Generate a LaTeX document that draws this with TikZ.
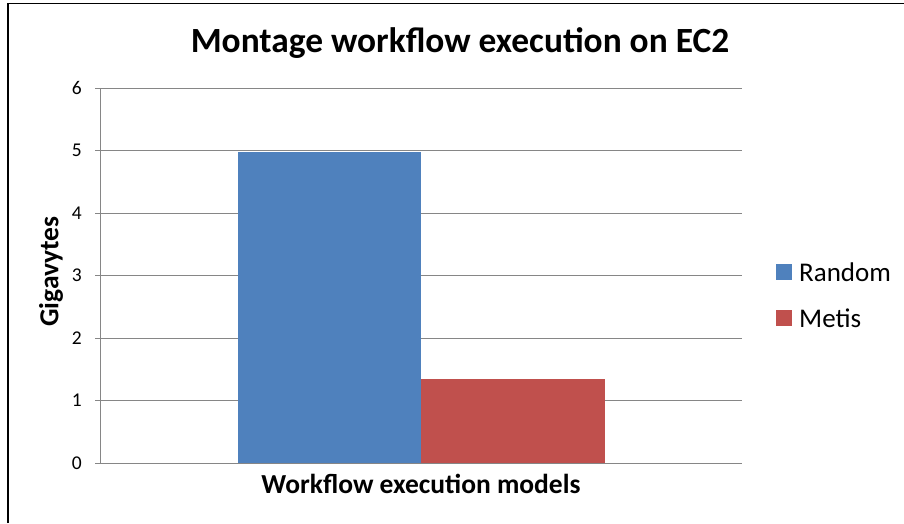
\documentclass[tikz,border=0pt]{standalone}
\usepackage{fontspec}
\setmainfont{Carlito}
\definecolor{barblue}{HTML}{4F81BD}
\definecolor{barred}{HTML}{C0504D}
\definecolor{gridgray}{HTML}{868686}
\begin{document}
\begin{tikzpicture}[x=1pt,y=-1pt,
  grid/.style={draw=gridgray,line width=0.9pt},
  ticklabel/.style={anchor=east,inner sep=0pt,font=\fontsize{19.5}{21}\selectfont},
  legtext/.style={anchor=west,inner sep=0pt,font=\fontsize{27}{30}\selectfont},
  axtitle/.style={font=\fontsize{27.5}{30}\selectfont\bfseries}]
\useasboundingbox (0,0) rectangle (904,523);
\fill[white] (0,0) rectangle (904,523);
% frame
\draw[line width=1.8pt] (7.7,523) -- (7.7,3.5) -- (904,3.5);
% title
\node[font=\fontsize{35.4}{38}\selectfont\bfseries] (title) at (460,43) {Montage workflow execution on EC2};
% gridlines and ticks
\foreach \v in {0,...,6}{
  \pgfmathsetmacro{\yy}{463-62.5*\v}
  \draw[grid] (95,\yy) -- (742,\yy);
  \node[ticklabel] (t\v) at (82,\yy) {\v};
}
\draw[grid] (100,88) -- (100,463);
% bars
\fill[barblue] (238.3,463) rectangle (420.7,152.4);
\fill[barred] (420.7,463) rectangle (604.7,379.3);
\draw[grid] (95,463) -- (742,463);
% axis labels
\node[axtitle] (xlabel) at (421,484) {Workflow execution models};
\node[axtitle,rotate=90] (ylabel) at (51,271.5) {Gigavytes};
% legend
\fill[barblue] (776,264) rectangle (792,280);
\node[legtext] (lrandom) at (799,272) {Random};
\fill[barred] (776,310) rectangle (792,326);
\node[legtext] (lmetis) at (799,318) {Metis};
\end{tikzpicture}
\end{document}
